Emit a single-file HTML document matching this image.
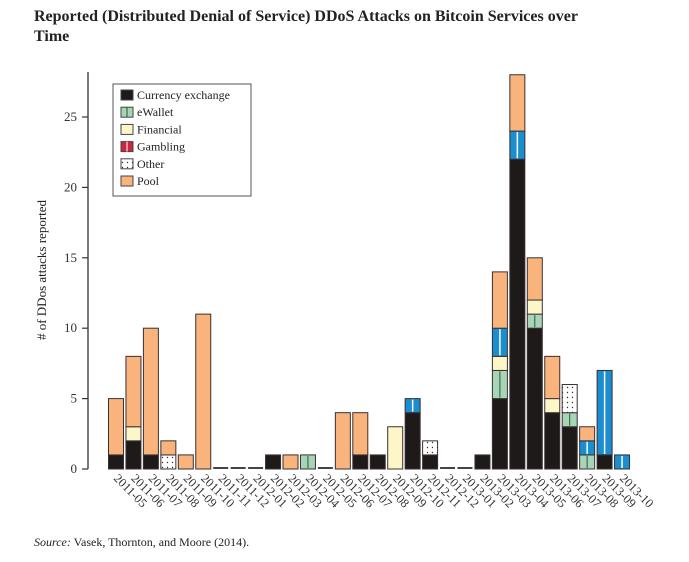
<!DOCTYPE html>
<html><head><meta charset="utf-8"><style>
body{margin:0;background:#fff;}
svg, svg text{font-family:"Liberation Serif","DejaVu Serif",serif;}
</style></head><body>
<svg width="689" height="557" font-family="Liberation Serif, serif">
<text x="34" y="21" font-size="16" font-weight="bold" fill="#222">Reported (Distributed Denial of Service) DDoS Attacks on Bitcoin Services over</text>
<text x="34" y="41" font-size="16" font-weight="bold" fill="#222">Time</text>
<defs>
<pattern id="dots" width="5" height="5" patternUnits="userSpaceOnUse"><rect width="5" height="5" fill="#fff"/><circle cx="2.5" cy="2.5" r="0.7" fill="#333"/></pattern>
</defs>
<g id="plot" font-family="Liberation Serif, serif"></g>
<text x="34" y="546" font-size="12" fill="#222" font-family="Liberation Serif, serif"><tspan font-style="italic">Source:</tspan> Vasek, Thornton, and Moore (2014).</text>
</svg>
<script>
const categories=["2011-05","2011-06","2011-07","2011-08","2011-09","2011-10","2011-11","2011-12","2012-01","2012-02","2012-03","2012-04","2012-05","2012-06","2012-07","2012-08","2012-09","2012-10","2012-11","2012-12","2013-01","2013-02","2013-03","2013-04","2013-05","2013-06","2013-07","2013-08","2013-09","2013-10"];
const exchange=[1,2,1,0,0,0,0,0,0,1,0,0,0,0,1,1,0,4,1,0,0,1,5,22,10,4,3,0,1,0];
const ewallet =[0,0,0,0,0,0,0,0,0,0,0,1,0,0,0,0,0,0,0,0,0,0,2,0,1,0,1,1,0,0];
const financial=[0,1,0,0,0,0,0,0,0,0,0,0,0,0,0,0,3,0,0,0,0,0,1,0,1,1,0,0,0,0];
const gambling=[0,0,0,0,0,0,0,0,0,0,0,0,0,0,0,0,0,1,0,0,0,0,2,2,0,0,0,1,6,1];
const other   =[0,0,0,1,0,0,0,0,0,0,0,0,0,0,0,0,0,0,1,0,0,0,0,0,0,0,2,0,0,0];
const pool    =[4,5,9,1,1,11,0,0,0,0,1,0,0,4,3,0,0,0,0,0,0,0,4,4,3,3,0,1,0,0];
const yTicks=[0,5,10,15,20,25];
const seriesNames=["Currency exchange","eWallet","Financial","Gambling","Other","Pool"];

const NS="http://www.w3.org/2000/svg";
const g=document.getElementById('plot');
function el(t,a,p){const e=document.createElementNS(NS,t);for(const k in a)e.setAttribute(k,a[k]);if(t==='text')e.setAttribute('font-family','Liberation Serif, serif');(p||g).appendChild(e);return e;}
const y0=469, pxPer=14.08, x0=116, step=17.45, bw=15;
function yS(v){return y0-v*pxPer;}
function xS(i){return x0+i*step;}
const fills=["#1e1a1a","#a8d4b8","#fdf6c8","#1a8ed0","url(#dots)","#f9b47e"];
const series=[exchange,ewallet,financial,gambling,other,pool];
const keys=["exchange","ewallet","financial","gambling","other","pool"];

let ax=el('line',{x1:88,y1:72,x2:88,y2:y0,stroke:'#333','stroke-width':1.3});


yTicks.forEach(t=>{
  let tl=el('line',{x1:82,y1:yS(t),x2:88,y2:yS(t),stroke:'#333','stroke-width':1.2});
  
  
  let tx=el('text',{x:77,y:yS(t)+4,'font-size':13,'text-anchor':'end',fill:'#333'});
  tx.textContent=t;
  
  
});
let yt=el('text',{x:46,y:270,'font-size':13,'text-anchor':'middle',fill:'#222',transform:'rotate(-90 46 270)'});
yt.textContent='# of DDos attacks reported';



categories.forEach((c,i)=>{
  let cum=0, tot=0;
  series.forEach(s=>tot+=s[i]);
  const x=xS(i)-bw/2;
  if(tot===0){
    let z=el('rect',{x:x,y:y0-2,width:bw,height:2,fill:'#444'});
    
    
  }
  series.forEach((s,k)=>{
    const v=s[i]; if(!v) return;
    const yt=yS(cum+v), h=v*pxPer;
    let r=el('rect',{x:x,y:yt,width:bw,height:h,fill:fills[k],stroke:'#3a3030','stroke-width':1});
    
    
    if(k===1||k===3){
      let m=el('line',{x1:xS(i),y1:yt+1,x2:xS(i),y2:yt+h-1,stroke:k===3?'#fff':'#2a5a3a','stroke-width':k===3?1.5:1});
      
      
    }
    cum+=v;
  });
  const lx=xS(i)-3, ly=479;
  let lb=el('text',{x:lx,y:ly,'font-size':12.5,fill:'#333',transform:`rotate(45 ${lx} ${ly})`});
  lb.textContent=c;
  
  
});

let lg=el('rect',{x:113,y:84,width:138,height:112,fill:'#fff',stroke:'#555','stroke-width':1});


const legFills=["#1e1a1a","#a8d4b8","#fdf6c8","#c8283a","url(#dots)","#f9b47e"];
seriesNames.forEach((n,k)=>{
  const yy=90+k*17.2;
  let sw=el('rect',{x:121,y:yy,width:12,height:10,fill:legFills[k],stroke:'#444','stroke-width':1});
  
  
  if(k===1||k===3){let m=el('line',{x1:127,y1:yy,x2:127,y2:yy+10,stroke:k===3?'#fff':'#2a5a3a','stroke-width':1});
    
    }
  let t=el('text',{x:137,y:yy+9,'font-size':12,fill:'#222'});
  t.textContent=n;
  
  
});
</script>
</body></html>
